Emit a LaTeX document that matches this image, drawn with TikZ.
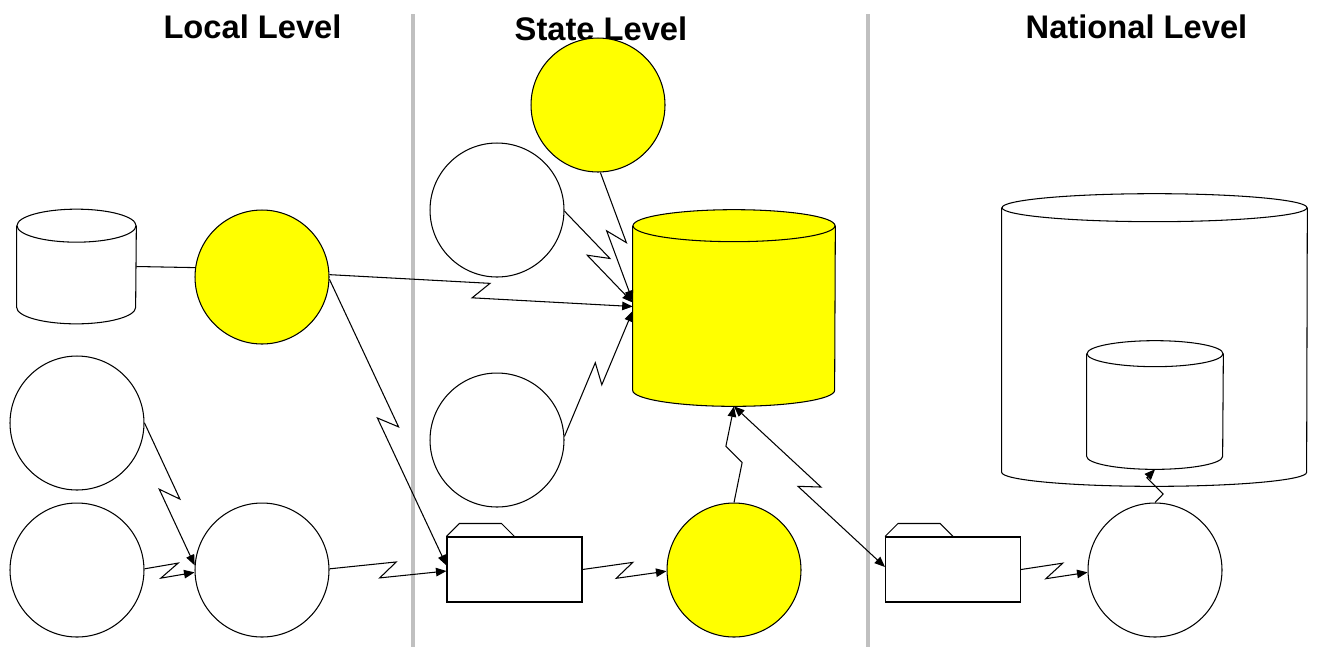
\documentclass[tikz,border=0pt]{standalone}
\usepackage{fontspec}
\setmainfont{Liberation Sans}
\usetikzlibrary{calc,arrows.meta}
\definecolor{ylw}{RGB}{255,255,0}
\definecolor{divgray}{RGB}{192,192,192}
\tikzset{
  conn/.style={line width=0.6pt},
  circ/.style={circle, draw, line width=0.6pt, minimum size=2.68cm, inner sep=0pt},
  ycirc/.style={circ, fill=ylw},
  wcirc/.style={circ, fill=white},
  folder/.style={rectangle, draw, fill=white, line width=0.6pt, minimum width=2.7cm, minimum height=1.3cm, inner sep=0pt},
  title/.style={font=\bfseries\fontsize{18.6}{21}\selectfont, anchor=base, inner sep=0pt},
  divider/.style={draw=divgray, line width=0.08cm},
  arr/.style={conn, -{Triangle[length=0.21cm,width=0.17cm]}},
  darr/.style={conn, {Triangle[length=0.21cm,width=0.17cm]}-{Triangle[length=0.21cm,width=0.17cm]}},
}
% lightning connector, Z form (back-tracking) and N form
\newcommand\boltZ[3][]{%
  \coordinate (zm) at ($(#2)!0.5!(#3)$);
  \draw[#1] (#2) -- ($(zm)!0.23cm!45:(#3)$) -- ($(zm)!0.23cm!225:(#3)$) -- (#3);}
\newcommand\boltN[3][]{%
  \coordinate (zm) at ($(#2)!0.5!(#3)$);
  \draw[#1] (#2) -- ($(zm)!0.23cm!225:(#3)$) -- ($(zm)!0.23cm!45:(#3)$) -- (#3);}
% cylinder: name, center, width, height, rx, ry, fill
\newcommand\drumshape[7]{%
  \node[inner sep=0pt, minimum width=#3cm, minimum height=#4cm] (#1) at #2 {};
  \fill[#7] (#1.north west) -- (#1.south west)
     arc[start angle=180, end angle=360, x radius=#5cm, y radius=#6cm]
     -- (#1.north east)
     arc[start angle=0, end angle=180, x radius=#5cm, y radius=#6cm] -- cycle;
  \draw[conn] (#1.north west) -- (#1.south west)
     arc[start angle=180, end angle=360, x radius=#5cm, y radius=#6cm] -- (#1.north east);
  \draw[conn] (#1.north) ellipse[x radius=#5cm, y radius=#6cm];
  \coordinate (#1-bot) at ([yshift=-#6cm]#1.south);}
\begin{document}
\begin{tikzpicture}[x=0.02cm, y=-0.02cm]
\useasboundingbox (0,0) rectangle (1317,647);
% dividers
\draw[divider] (413,14) -- (413,647);
\draw[divider] (868,14) -- (868,647);
% titles
\node[title] (tL) at (252.5,38) {Local Level};
\node[title] (tS) at (601,40) {State Level};
\node[title] (tN) at (1136.5,38) {National Level};
% local level
\drumshape{cylL}{(76.5,266.5)}{2.38}{1.62}{1.19}{0.33}{white}
\node[ycirc] (Y1) at (262,277) {};
\node[wcirc] (LT) at (77,423) {};
\node[wcirc] (LB) at (77,570) {};
\node[wcirc] (BM) at (262,570) {};
% state level
\node[ycirc] (YT) at (598,105) {};
\node[wcirc] (WS1) at (497,210) {};
\node[wcirc] (WS2) at (497,440) {};
\drumshape{ycyl}{(734,308)}{4.04}{3.28}{2.02}{0.32}{ylw}
\node[folder] (F1) at (514.5,569.5) {};
\draw[conn] (F1.north west) -- ++(13,-13) -- ++(42,0) -- ++(13,13);
\node[ycirc] (YB) at (734,570) {};
% national level
\drumshape{ncyl}{(1154.5,340)}{6.1}{5.28}{3.05}{0.28}{white}
\drumshape{ncin}{(1155,405)}{2.72}{2.04}{1.36}{0.26}{white}
\node[folder] (F2) at (953,569.5) {};
\draw[conn] (F2.north west) -- ++(13,-13) -- ++(42,0) -- ++(13,13);
\node[wcirc] (NC) at (1155,570) {};
% ports
\coordinate (F1p1) at ([yshift=0.08cm]F1.west);
\coordinate (F1p2) at ([yshift=-0.03cm]F1.west);
\coordinate (yc0) at ([yshift=0.14cm]ycyl.west);
\coordinate (yc1) at ([yshift=0.11cm]ycyl.west);
\coordinate (yc2) at ([yshift=0.03cm]ycyl.west);
\coordinate (yc3) at ([yshift=-0.06cm]ycyl.west);
\coordinate (F2p) at ([yshift=0.05cm]F2.west);
% connectors
\draw[conn] (cylL.east) -- (Y1.172);
\boltZ[arr]{LT.0}{BM.176}
\boltZ[arr]{LB.1}{BM.182}
\boltZ[arr]{BM.1}{F1p2}
\boltZ[arr]{Y1.358}{F1p1}
\boltZ[arr]{Y1.2}{yc2}
\boltZ[arr]{WS1.359}{yc1}
\boltZ[arr]{YT.272}{yc0}
\boltZ[arr]{WS2.3}{yc3}
\boltZ[arr]{F1.east}{YB.181}
\boltN[arr]{YB.north}{ycyl-bot}
\boltZ[darr]{ycyl-bot}{F2p}
\boltZ[arr]{F2.east}{NC.182}
\boltN[arr]{NC.north}{ncin-bot}
\end{tikzpicture}
\end{document}
